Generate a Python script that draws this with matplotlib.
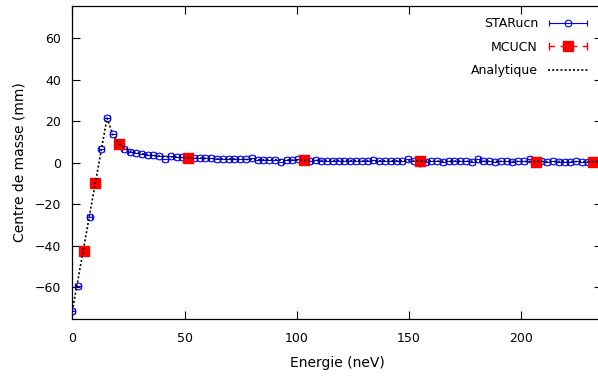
import matplotlib
matplotlib.use("Agg")
import matplotlib.pyplot as plt
from matplotlib.legend_handler import HandlerErrorbar

# ---- data ----
star_E = [0.0, 2.58, 5.16, 7.74, 10.32, 12.9, 15.48, 18.06, 20.64, 23.22,
          25.8, 28.38, 30.96, 33.54, 36.12, 38.7, 41.28, 43.86, 46.44, 49.02,
          51.6, 54.18, 56.76, 59.34, 61.92, 64.5, 67.08, 69.66, 72.24, 74.82,
          77.4, 79.98, 82.56, 85.14, 87.72, 90.3, 92.88, 95.46, 98.04, 100.62,
          103.2, 105.78, 108.36, 110.94, 113.52, 116.1, 118.68, 121.26, 123.84, 126.42,
          129.0, 131.58, 134.16, 136.74, 139.32, 141.9, 144.48, 147.06, 149.64, 152.22,
          154.8, 157.38, 159.96, 162.54, 165.12, 167.7, 170.28, 172.86, 175.44, 178.02,
          180.6, 183.18, 185.76, 188.34, 190.92, 193.5, 196.08, 198.66, 201.24, 203.82,
          206.4, 208.98, 211.56, 214.14, 216.72, 219.3, 221.88, 224.46, 227.04, 229.62,
          232.2]
star_V = [-71.3, -59.3, -42.0, -26.3, -10.0, 6.5, 21.4, 13.8, 9.0, 6.5,
          5.3, 4.8, 4.3, 3.9, 3.5, 3.2, 2.0, 3.0, 2.8, 2.6,
          2.4, 2.3, 2.2, 2.2, 2.1, 2.0, 1.9, 2.0, 1.7, 1.6,
          1.7, 2.1, 1.2, 1.5, 1.4, 1.3, 0.3, 1.3, 1.2, 1.6,
          1.1, 1.0, 1.1, 1.0, 0.9, 1.0, 0.9, 1.0, 0.8, 0.9,
          1.0, 0.9, 1.1, 1.0, 0.8, 0.6, 0.7, 0.9, 2.0, 0.8,
          -0.3, 0.2, 0.6, 0.9, 0.5, 0.8, 0.6, 0.7, 0.8, 0.5,
          1.6, 0.7, 0.6, 0.5, 0.7, 0.6, 0.5, 0.7, 0.6, 1.9,
          0.5, 0.6, 0.5, 0.7, 0.3, 0.5, 0.4, 0.6, 0.5, 0.4,
          0.5]
star_xerr = 1.2

mc_E = [5.16, 10.32, 20.64, 51.6, 103.2, 154.8, 206.4, 232.2]
mc_V = [-42.5, -10.0, 9.0, 2.3, 1.1, 0.6, 0.3, 0.3]

an_E = [0.0, 15.48, 18.06, 20.64, 23.22, 25.8, 30.96, 36.12, 41.28, 51.6,
        61.92, 77.4, 103.2, 129.0, 154.8, 180.6, 206.4, 232.2, 236.0]
an_V = [-71.5, 21.5, 13.6, 9.3, 7.0, 5.6, 4.3, 3.5, 3.0, 2.4,
        2.0, 1.6, 1.2, 1.0, 0.8, 0.7, 0.6, 0.5, 0.5]

xticks = [0, 50, 100, 150, 200]
yticks = [-60, -40, -20, 0, 20, 40, 60]

# ---- figure ----
fig = plt.figure(figsize=(5.98, 3.81), dpi=100)
ax = fig.add_axes([72.3/598, 1-319/381, (602-72.3)/598, (319-6)/381])

blue = '#0000ff'
red = '#ff0000'

star = ax.errorbar(star_E, star_V, xerr=star_xerr, fmt='o', ms=4.8, mfc='none',
                   mec=blue, mew=0.8, ecolor=blue, elinewidth=0.8, capsize=2.5,
                   capthick=0.8, label='STARucn', zorder=3)
mc = ax.errorbar(mc_E, mc_V, xerr=0.01, fmt='s', ms=7, mfc=red, mec=red,
                 ecolor=red, elinewidth=1.0, capsize=3, capthick=1.0,
                 label='MCUCN', zorder=4)
mc[2][0].set_linestyle((0, (4, 4)))
an, = ax.plot(an_E, an_V, color='black', lw=1.2, ls=(0, (1.2, 1.3)),
              label='Analytique', zorder=5)

ax.set_xlim(0, 236)
ax.set_ylim(-75.3, 75.5)
ax.set_xticks(xticks)
ax.set_yticks(yticks)
ax.tick_params(direction='in', length=6, width=0.8, top=True, right=True,
               labelsize=9, pad=8, colors='black')
ax.tick_params(axis='x', pad=9)
for s in ax.spines.values():
    s.set_linewidth(0.9)

ax.set_xlabel('Energie (neV)', fontsize=10, labelpad=8)
ax.set_ylabel('Centre de masse (mm)', fontsize=10, labelpad=6)

leg = ax.legend(handles=[star, mc, an], loc='upper right',
                bbox_to_anchor=(588/598, 1-17/381), bbox_transform=fig.transFigure,
                frameon=False, markerfirst=False, fontsize=9, handlelength=3.2,
                handletextpad=0.8, labelspacing=0.85, borderaxespad=0, borderpad=0,
                handler_map={type(star): HandlerErrorbar(xerr_size=1.55)})

fig.savefig('out.png', dpi=100)
